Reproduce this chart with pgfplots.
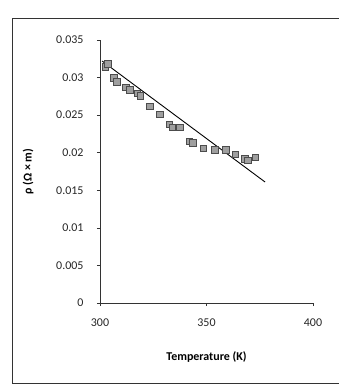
\documentclass[border=0pt]{standalone}
\usepackage{fontspec}
\setmainfont{Carlito}
\usepackage{pgfplots}
\pgfplotsset{compat=1.18}
\begin{document}
\begin{tikzpicture}[x=1bp,y=1bp]
\useasboundingbox (0,0) rectangle (339,390);
\draw[black!80, line width=0.9bp] (345,372) -- (12,372) -- (12,7) -- (345,7);
\begin{axis}[
  at={(100bp,87bp)}, anchor=south west,
  scale only axis, width=213bp, height=263bp,
  xmin=300, xmax=400, ymin=0, ymax=0.035,
  axis lines*=left,
  axis line style={black!80, line width=0.8bp},
  xtick={300,350,400},
  ytick={0,0.005,0.01,0.015,0.02,0.025,0.03,0.035},
  yticklabels={0,0.005,0.01,0.015,0.02,0.025,0.03,0.035},
  scaled y ticks=false,
  tick align=outside, major tick length=3bp,
  tick style={black!80, line width=0.6bp},
  /pgf/number format/assume math mode=true,
  ticklabel style={font=\fontsize{12}{14}\selectfont, text=black!85},
  xticklabel style={yshift=-9bp},
  yticklabel style={xshift=-10bp},
  xlabel={Temperature (K)},
  ylabel={ρ (Ω × m)},
  label style={font=\bfseries\fontsize{12}{14}\selectfont},
  xlabel style={yshift=-18bp},
  ylabel style={yshift=16bp},
  clip=false,
]
\addplot[black, line width=0.9bp] coordinates {(301,0.0322) (377.5,0.0161)};
\addplot[only marks, mark=square*, mark size=3.3bp,
  mark options={fill=gray!75, draw=black!70, line width=0.6bp}] coordinates {
(302.5,0.0314) (303.8,0.0318) (306.5,0.0300) (308,0.0294) (312,0.0287) (314,0.0284)
(317.5,0.0279) (319,0.0276) (323.5,0.0262) (328,0.0251) (332.5,0.0238) (334,0.0234)
(337.5,0.0234) (342,0.0215) (343.5,0.0213) (348.5,0.0206) (354,0.0204) (359,0.0204)
(363.5,0.0198) (368,0.0192) (369.5,0.0190) (373,0.0194)
};
\end{axis}
\end{tikzpicture}
\end{document}
